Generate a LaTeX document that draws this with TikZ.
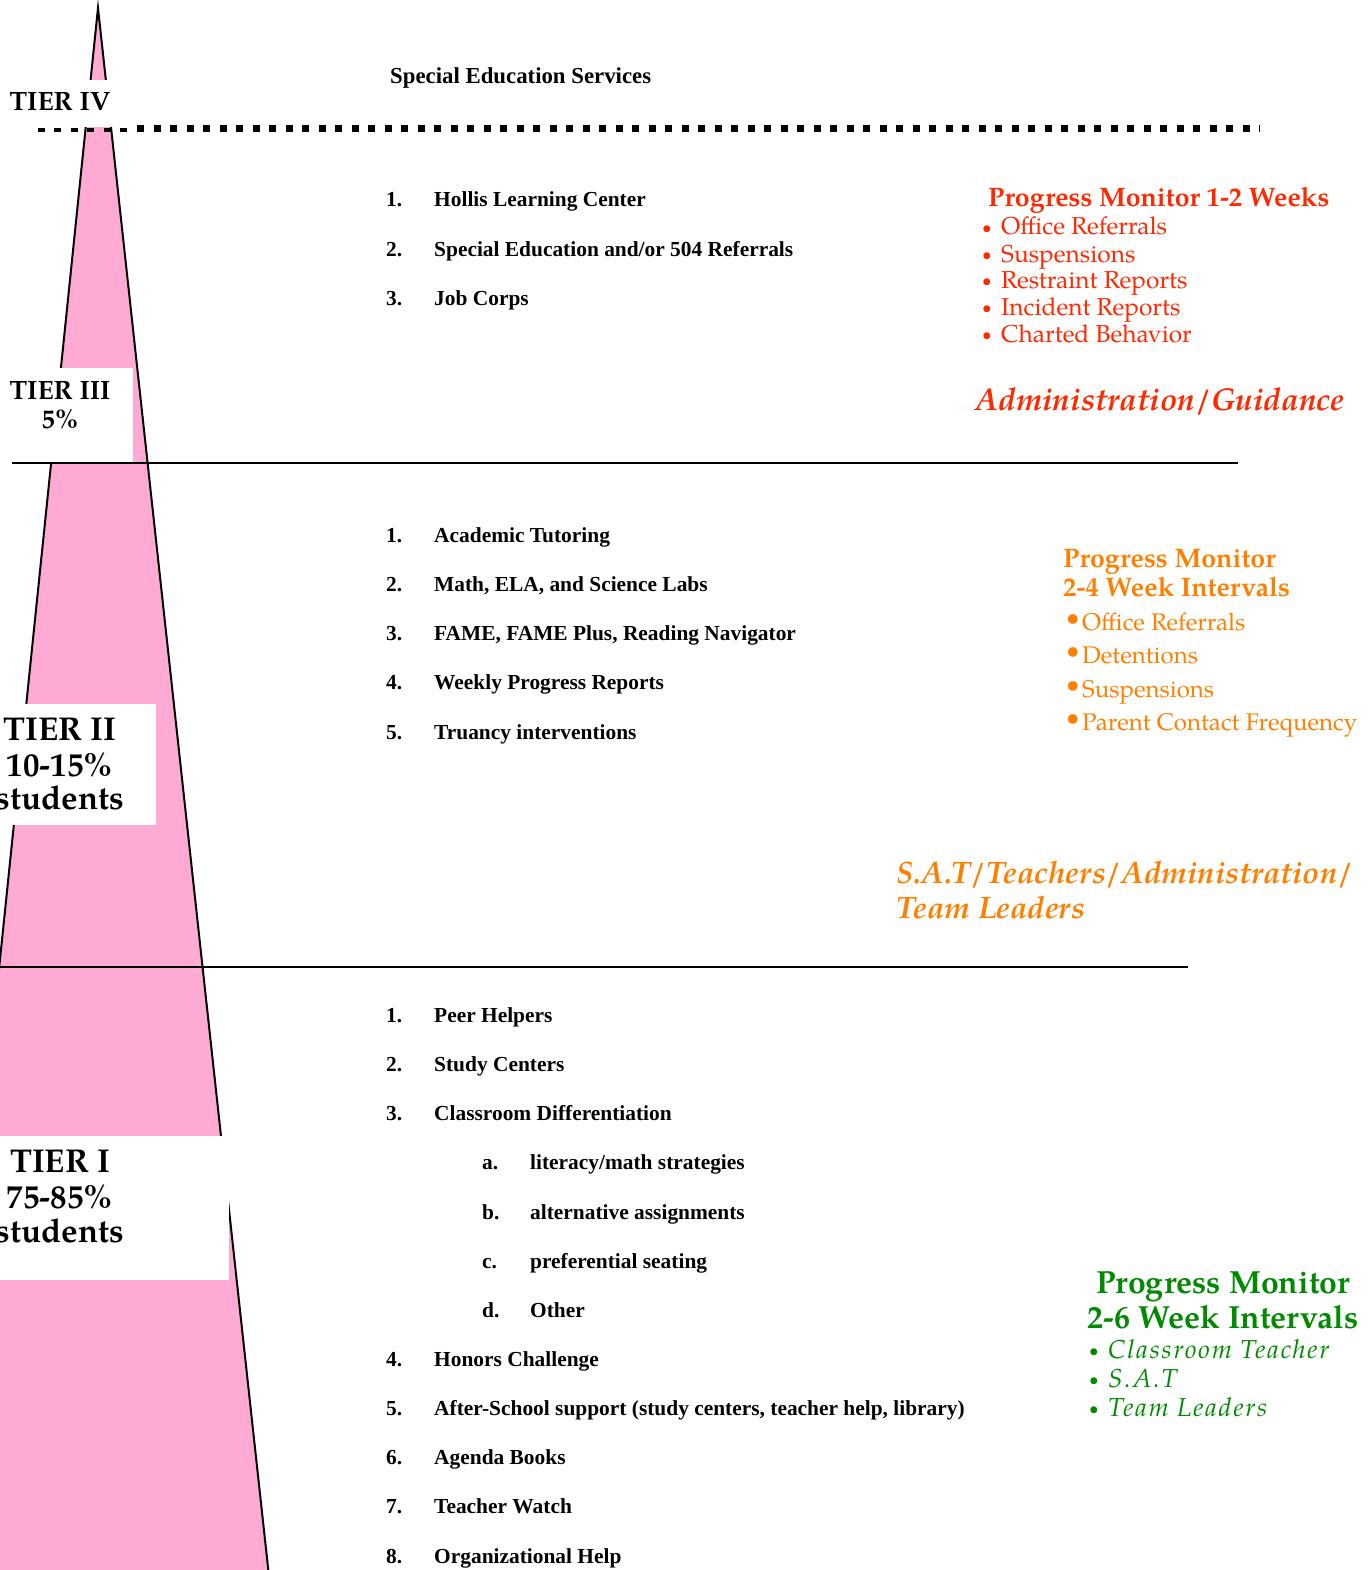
\documentclass[tikz,border=0pt]{standalone}
\usepackage{fontspec}
\setmainfont{Liberation Serif}
\newfontfamily\pal{TeX Gyre Pagella}
\definecolor{pinkfill}{RGB}{255,170,212}
\definecolor{redt}{RGB}{255,40,0}
\definecolor{oranget}{RGB}{255,127,0}
\definecolor{greent}{RGB}{0,138,0}
\newcommand{\smallbul}{{\fontsize{17}{17}\selectfont\raisebox{1.5pt}{•}}}
\begin{document}
\begin{tikzpicture}[x=1pt,y=-1pt,
  itemtxt/.style={anchor=base west, inner sep=0pt, font=\fontsize{21.4}{21.4}\selectfont\bfseries},
  tiersmall/.style={anchor=base, inner sep=0pt, font=\pal\bfseries\fontsize{26.5}{26.5}\selectfont},
  tierbig/.style={anchor=base, inner sep=0pt, font=\pal\bfseries\fontsize{33}{33}\selectfont},
  redhead/.style={anchor=base west, inner sep=0pt, text=redt, font=\pal\bfseries\fontsize{26.7}{26.7}\selectfont},
  redbul/.style={anchor=base west, inner sep=0pt, text=redt, font=\pal\fontsize{24.5}{24.5}\selectfont},
  redbig/.style={anchor=base west, inner sep=0pt, text=redt, font=\pal\bfseries\itshape\fontsize{31.6}{31.6}\selectfont},
  orhead/.style={anchor=base west, inner sep=0pt, text=oranget, font=\pal\bfseries\fontsize{26.8}{26.8}\selectfont},
  orbul/.style={anchor=base west, inner sep=0pt, text=oranget, font=\pal\fontsize{24.1}{24.1}\selectfont},
  orbig/.style={anchor=base west, inner sep=0pt, text=oranget, font=\pal\bfseries\itshape\fontsize{31}{31}\selectfont},
  grhead/.style={anchor=base, inner sep=0pt, text=greent, font=\pal\bfseries\fontsize{32}{32}\selectfont},
  grbul/.style={anchor=base west, inner sep=0pt, text=greent, font=\pal\itshape\fontsize{26}{26}\selectfont\addfontfeatures{LetterSpace=7}},
  rule/.style={line width=1.5pt},
]
\useasboundingbox (0,0) rectangle (1368,1570);
\clip (0,0) rectangle (1368,1570);
% pyramid
\coordinate (apex) at (98,8);
\coordinate (bl) at (-62.9,1570);
\coordinate (br) at (268.3,1570);
\fill[pinkfill] (apex) -- (br) -- (bl) -- cycle;
\draw[line width=2pt] (bl) -- (apex) -- (br);
% white label boxes
\fill[white] (-5,80) rectangle (125,127);
\fill[white] (-5,368) rectangle (133,463);
\fill[white] (-5,704) rectangle (156,825);
\fill[white] (-5,1136) rectangle (229,1280);
% separators
\draw[line width=4pt, dash pattern=on 7.3pt off 9.2pt] (37.5,129.7) -- (130,129.7);
\draw[line width=6.7pt, dash pattern=on 7.3pt off 9.2pt] (137,128.3) -- (1260,128.3);
\draw[rule] (12,463) -- (1238,463);
\draw[rule] (0,967) -- (1188,967);
% tier labels
\node[tiersmall] (t4) at (60,111) {TIER IV};
\node[tiersmall] (t3a) at (60,399) {TIER III};
\node[tiersmall] (t3b) at (60,428) {5\%};
\node[tierbig] (t2a) at (60,740) {TIER II};
\node[tierbig] (t2b) at (60,776) {10-15\%};
\node[tierbig] (t2c) at (60,809) {students};
\node[tierbig] (t1a) at (60,1172) {TIER I};
\node[tierbig] (t1b) at (60,1208) {75-85\%};
\node[tierbig] (t1c) at (60,1242) {students};
% tier IV
\node[itemtxt, font=\fontsize{22.8}{22.8}\selectfont\bfseries] (ses) at (390,84) {Special Education Services};
% tier III list
\node[itemtxt] (n31) at (386,207) {1.};
\node[itemtxt] (i31) at (434,207) {Hollis Learning Center};
\node[itemtxt] (n32) at (386,256) {2.};
\node[itemtxt] (i32) at (434,256) {Special Education and/or 504 Referrals};
\node[itemtxt] (n33) at (386,305) {3.};
\node[itemtxt] (i33) at (434,305) {Job Corps};
% tier II list
\node[itemtxt] (n21) at (386,542) {1.};
\node[itemtxt] (i21) at (434,542) {Academic Tutoring};
\node[itemtxt] (n22) at (386,591) {2.};
\node[itemtxt] (i22) at (434,591) {Math, ELA, and Science Labs};
\node[itemtxt] (n23) at (386,640) {3.};
\node[itemtxt] (i23) at (434,640) {FAME, FAME Plus, Reading Navigator};
\node[itemtxt] (n24) at (386,689) {4.};
\node[itemtxt] (i24) at (434,689) {Weekly Progress Reports};
\node[itemtxt] (n25) at (386,739) {5.};
\node[itemtxt] (i25) at (434,739) {Truancy interventions};
% tier I list
\node[itemtxt] (n11) at (386,1022) {1.};
\node[itemtxt] (i11) at (434,1022) {Peer Helpers};
\node[itemtxt] (n12) at (386,1071) {2.};
\node[itemtxt] (i12) at (434,1071) {Study Centers};
\node[itemtxt] (n13) at (386,1120) {3.};
\node[itemtxt] (i13) at (434,1120) {Classroom Differentiation};
\node[itemtxt] (na) at (482,1169) {a.};
\node[itemtxt] (ia) at (530,1169) {literacy/math strategies};
\node[itemtxt] (nb) at (482,1219) {b.};
\node[itemtxt] (ib) at (530,1219) {alternative assignments};
\node[itemtxt] (nc) at (482,1268) {c.};
\node[itemtxt] (ic) at (530,1268) {preferential seating};
\node[itemtxt] (nd) at (482,1317) {d.};
\node[itemtxt] (id) at (530,1317) {Other};
\node[itemtxt] (n14) at (386,1366) {4.};
\node[itemtxt] (i14) at (434,1366) {Honors Challenge};
\node[itemtxt] (n15) at (386,1415) {5.};
\node[itemtxt] (i15) at (434,1415) {After-School support (study centers, teacher help, library)};
\node[itemtxt] (n16) at (386,1464) {6.};
\node[itemtxt] (i16) at (434,1464) {Agenda Books};
\node[itemtxt] (n17) at (386,1513) {7.};
\node[itemtxt] (i17) at (434,1513) {Teacher Watch};
\node[itemtxt] (n18) at (386,1563) {8.};
\node[itemtxt] (i18) at (434,1563) {Organizational Help};
% red block
\node[redhead] (rh) at (988,207) {Progress Monitor 1-2 Weeks};
\node[redbul] (r1) at (982,235) {\makebox[19pt][l]{\smallbul}Office Referrals};
\node[redbul] (r2) at (982,262) {\makebox[19pt][l]{\smallbul}Suspensions};
\node[redbul] (r3) at (982,288) {\makebox[19pt][l]{\smallbul}Restraint Reports};
\node[redbul] (r4) at (982,315) {\makebox[19pt][l]{\smallbul}Incident Reports};
\node[redbul] (r5) at (982,342) {\makebox[19pt][l]{\smallbul}Charted Behavior};
\node[redbig] (rad) at (975,410) {Administration/Guidance};
% orange block
\node[orhead] (oh1) at (1063,567) {Progress Monitor};
\node[orhead] (oh2) at (1063,596) {2-4 Week Intervals};
\node[orbul] (o1) at (1066,630) {\makebox[16pt][l]{\raisebox{5pt}{•}}Office Referrals};
\node[orbul] (o2) at (1066,663) {\makebox[16pt][l]{\raisebox{5pt}{•}}Detentions};
\node[orbul] (o3) at (1066,697) {\makebox[16pt][l]{\raisebox{5pt}{•}}Suspensions};
\node[orbul] (o4) at (1066,730) {\makebox[16pt][l]{\raisebox{5pt}{•}}Parent Contact Frequency};
\node[orbig] (ob1) at (896,883) {S.A.T/Teachers/Administration/};
\node[orbig] (ob2) at (896,918) {Team Leaders};
% green block
\node[grhead] (gh1) at (1223,1293) {Progress Monitor};
\node[grhead] (gh2) at (1223,1328) {2-6 Week Intervals};
\node[grbul] (g1) at (1089,1358) {\makebox[19pt][l]{\upshape\smallbul}Classroom Teacher};
\node[grbul] (g2) at (1089,1387) {\makebox[19pt][l]{\upshape\smallbul}S.A.T};
\node[grbul] (g3) at (1089,1416) {\makebox[19pt][l]{\upshape\smallbul}Team Leaders};
\end{tikzpicture}
\end{document}
